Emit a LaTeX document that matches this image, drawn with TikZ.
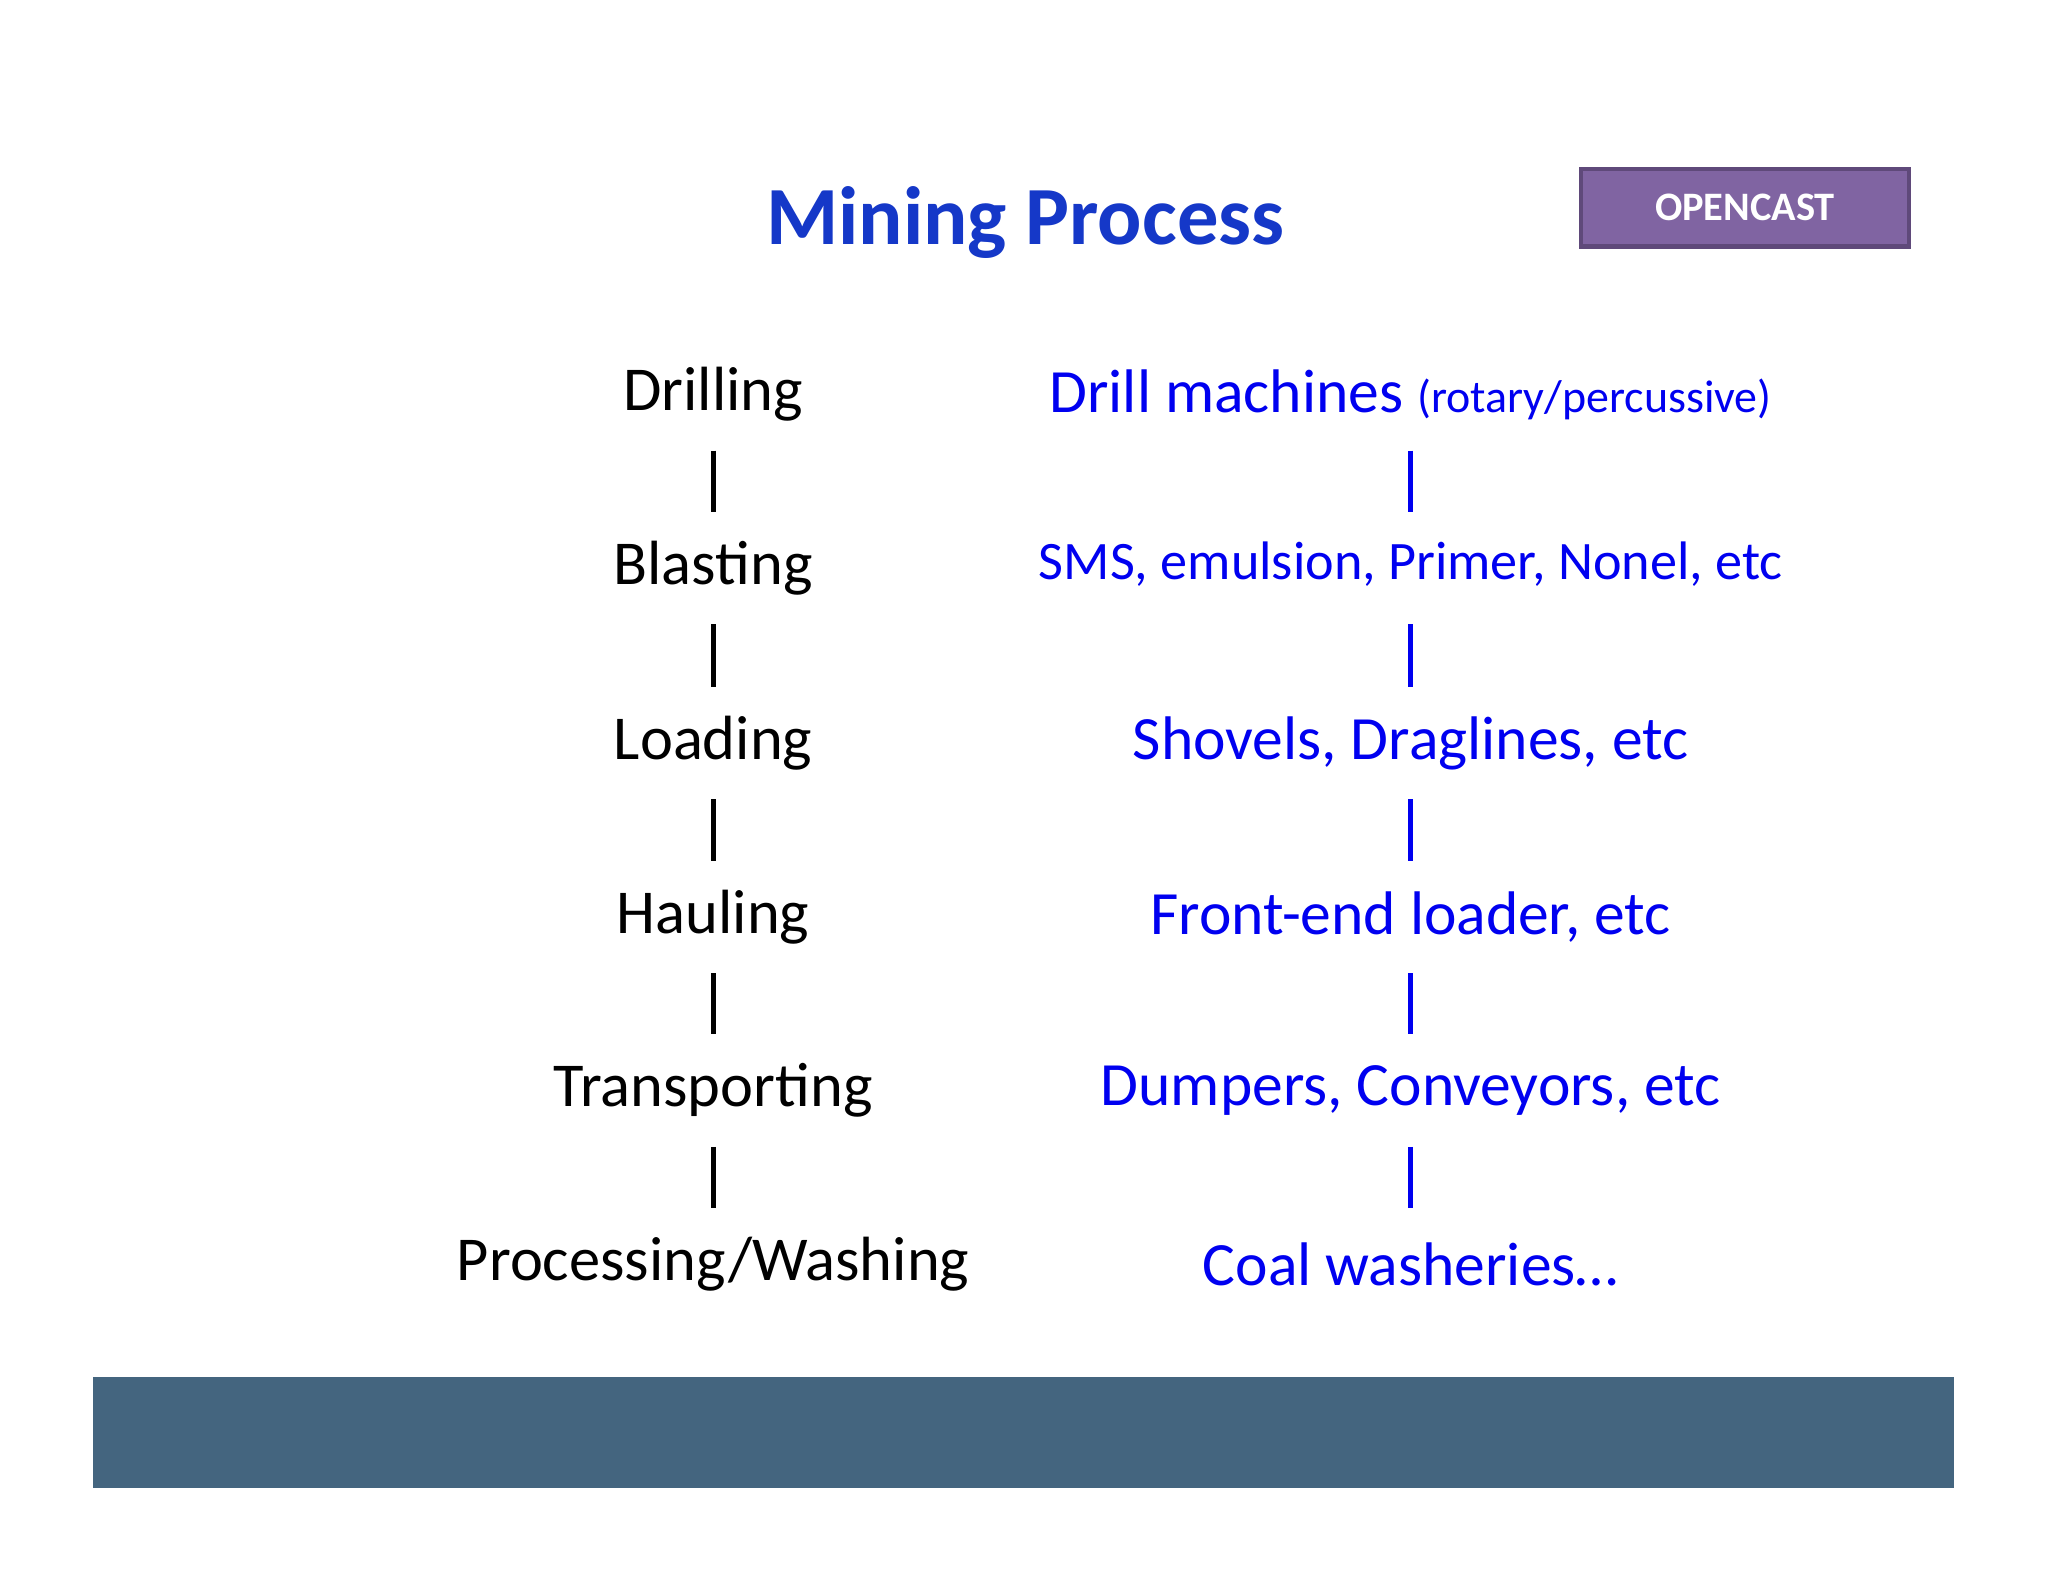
\documentclass[tikz,border=0pt]{standalone}
\usepackage{fontspec}
\setmainfont{Carlito}
\definecolor{titleblue}{RGB}{21,56,200}
\definecolor{ocfill}{RGB}{128,100,162}
\definecolor{ocdraw}{RGB}{95,73,122}
\definecolor{barcol}{RGB}{68,101,127}
\definecolor{rblue}{RGB}{0,0,240}
\begin{document}
\begin{tikzpicture}[x=0.01cm,y=-0.01cm,
  lt/.style={font=\fontsize{13.6pt}{15pt}\selectfont,text=black,inner sep=0pt},
  rt/.style={font=\fontsize{13.4pt}{15pt}\selectfont,text=rblue,inner sep=0pt},
  lbar/.style={line width=1.1pt,black,shorten <=0.43cm,shorten >=0.43cm},
  rbar/.style={line width=1.1pt,rblue,shorten <=0.43cm,shorten >=0.43cm}]
\useasboundingbox (0,0) rectangle (1568,1211);
\fill[white] (0,0) rectangle (1568,1211);
\node[font=\bfseries\fontsize{18pt}{20pt}\selectfont,text=titleblue] (title) at (785,170) {Mining Process};
\node[draw=ocdraw,line width=1pt,fill=ocfill,minimum width=2.51cm,minimum height=0.59cm,font=\bfseries\fontsize{8.8pt}{10pt}\selectfont,text=white] (oc) at (1336,159) {OPENCAST};
\node[lt] (l1) at (546,302) {Drilling};
\node[lt] (l2) at (546,435) {Blasting};
\node[lt] (l3) at (546,569) {Loading};
\node[lt] (l4) at (546,702) {Hauling};
\node[lt] (l5) at (546,835) {Transporting};
\node[lt] (l6) at (546,968) {Processing/Washing};
\node[rt] (r1) at (1080,302) {Drill machines {\fontsize{10pt}{12pt}\selectfont (rotary/percussive)}};
\node[rt,font=\fontsize{11.8pt}{14pt}\selectfont] (r2) at (1080,432) {SMS, emulsion, Primer, Nonel, etc};
\node[rt] (r3) at (1080,569) {Shovels, Draglines, etc};
\node[rt] (r4) at (1080,702) {Front-end loader, etc};
\node[rt] (r5) at (1080,835) {Dumpers, Conveyors, etc};
\node[rt] (r6) at (1080,968) {Coal washeries…};
\foreach \a/\b in {1/2,2/3,3/4,4/5,5/6}{
  \draw[lbar] (l\a.center) -- (l\b.center);
  \draw[rbar] (l\a.center -| r1.center) -- (l\b.center -| r1.center);
}
\fill[barcol] (71,1054) rectangle (1496,1139);
\end{tikzpicture}
\end{document}
